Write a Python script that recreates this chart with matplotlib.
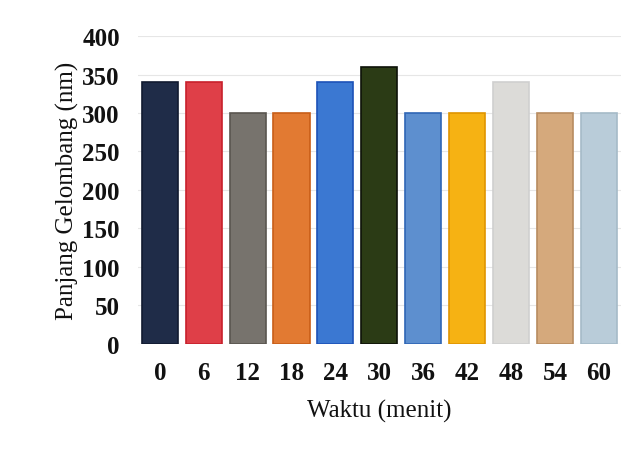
import matplotlib.pyplot as plt

# Data
waktu = ["0", "6", "12", "18", "24", "30", "36", "42", "48", "54", "60"]
panjang_gelombang = [340, 340, 300, 300, 340, 360, 300, 300, 340, 300, 300]
colors = ["#1f2c48", "#df3f48", "#77736d", "#e27a32", "#3b78d2", "#2b3b15",
          "#5d8fcf", "#f6b213", "#dcdbd8", "#d5a97c", "#b9ccd9"]
edges = ["#111a30", "#c8202c", "#5a5650", "#c85e18", "#1c52b8", "#0d1208",
         "#2f66b5", "#e09500", "#cfcfcf", "#b88c60", "#a5bac8"]

plt.rcParams['font.family'] = ['Liberation Serif', 'DejaVu Serif']

fig = plt.figure(figsize=(6.44, 4.52), dpi=100)
ax = fig.add_axes([0.214, 0.237, 0.75, 0.681])

x = range(len(waktu))
ax.bar(x, panjang_gelombang, width=0.82, color=colors, edgecolor=edges,
       linewidth=1.2, zorder=3)

ax.set_xlim(-0.5, len(waktu) - 0.5)
ax.set_ylim(0, 400)
ax.set_yticks(range(0, 401, 50))
ax.set_xticks(list(x))
ax.set_xticklabels(waktu)
ax.tick_params(length=0, labelsize=18, colors="#111111")
ax.tick_params(axis='x', pad=12)
ax.tick_params(axis='y', pad=13)
for lbl in ax.get_xticklabels() + ax.get_yticklabels():
    lbl.set_fontweight('bold')

ax.grid(axis='y', color='#e6e6e6', linewidth=0.8, zorder=0)
for s in ax.spines.values():
    s.set_visible(False)

ax.set_xlabel("Waktu (menit)", fontsize=18, color="#111111", labelpad=11)
ax.set_ylabel("Panjang Gelombang (nm)", fontsize=18, color="#111111", labelpad=2)

plt.savefig("out.png", dpi=100, facecolor="white")
